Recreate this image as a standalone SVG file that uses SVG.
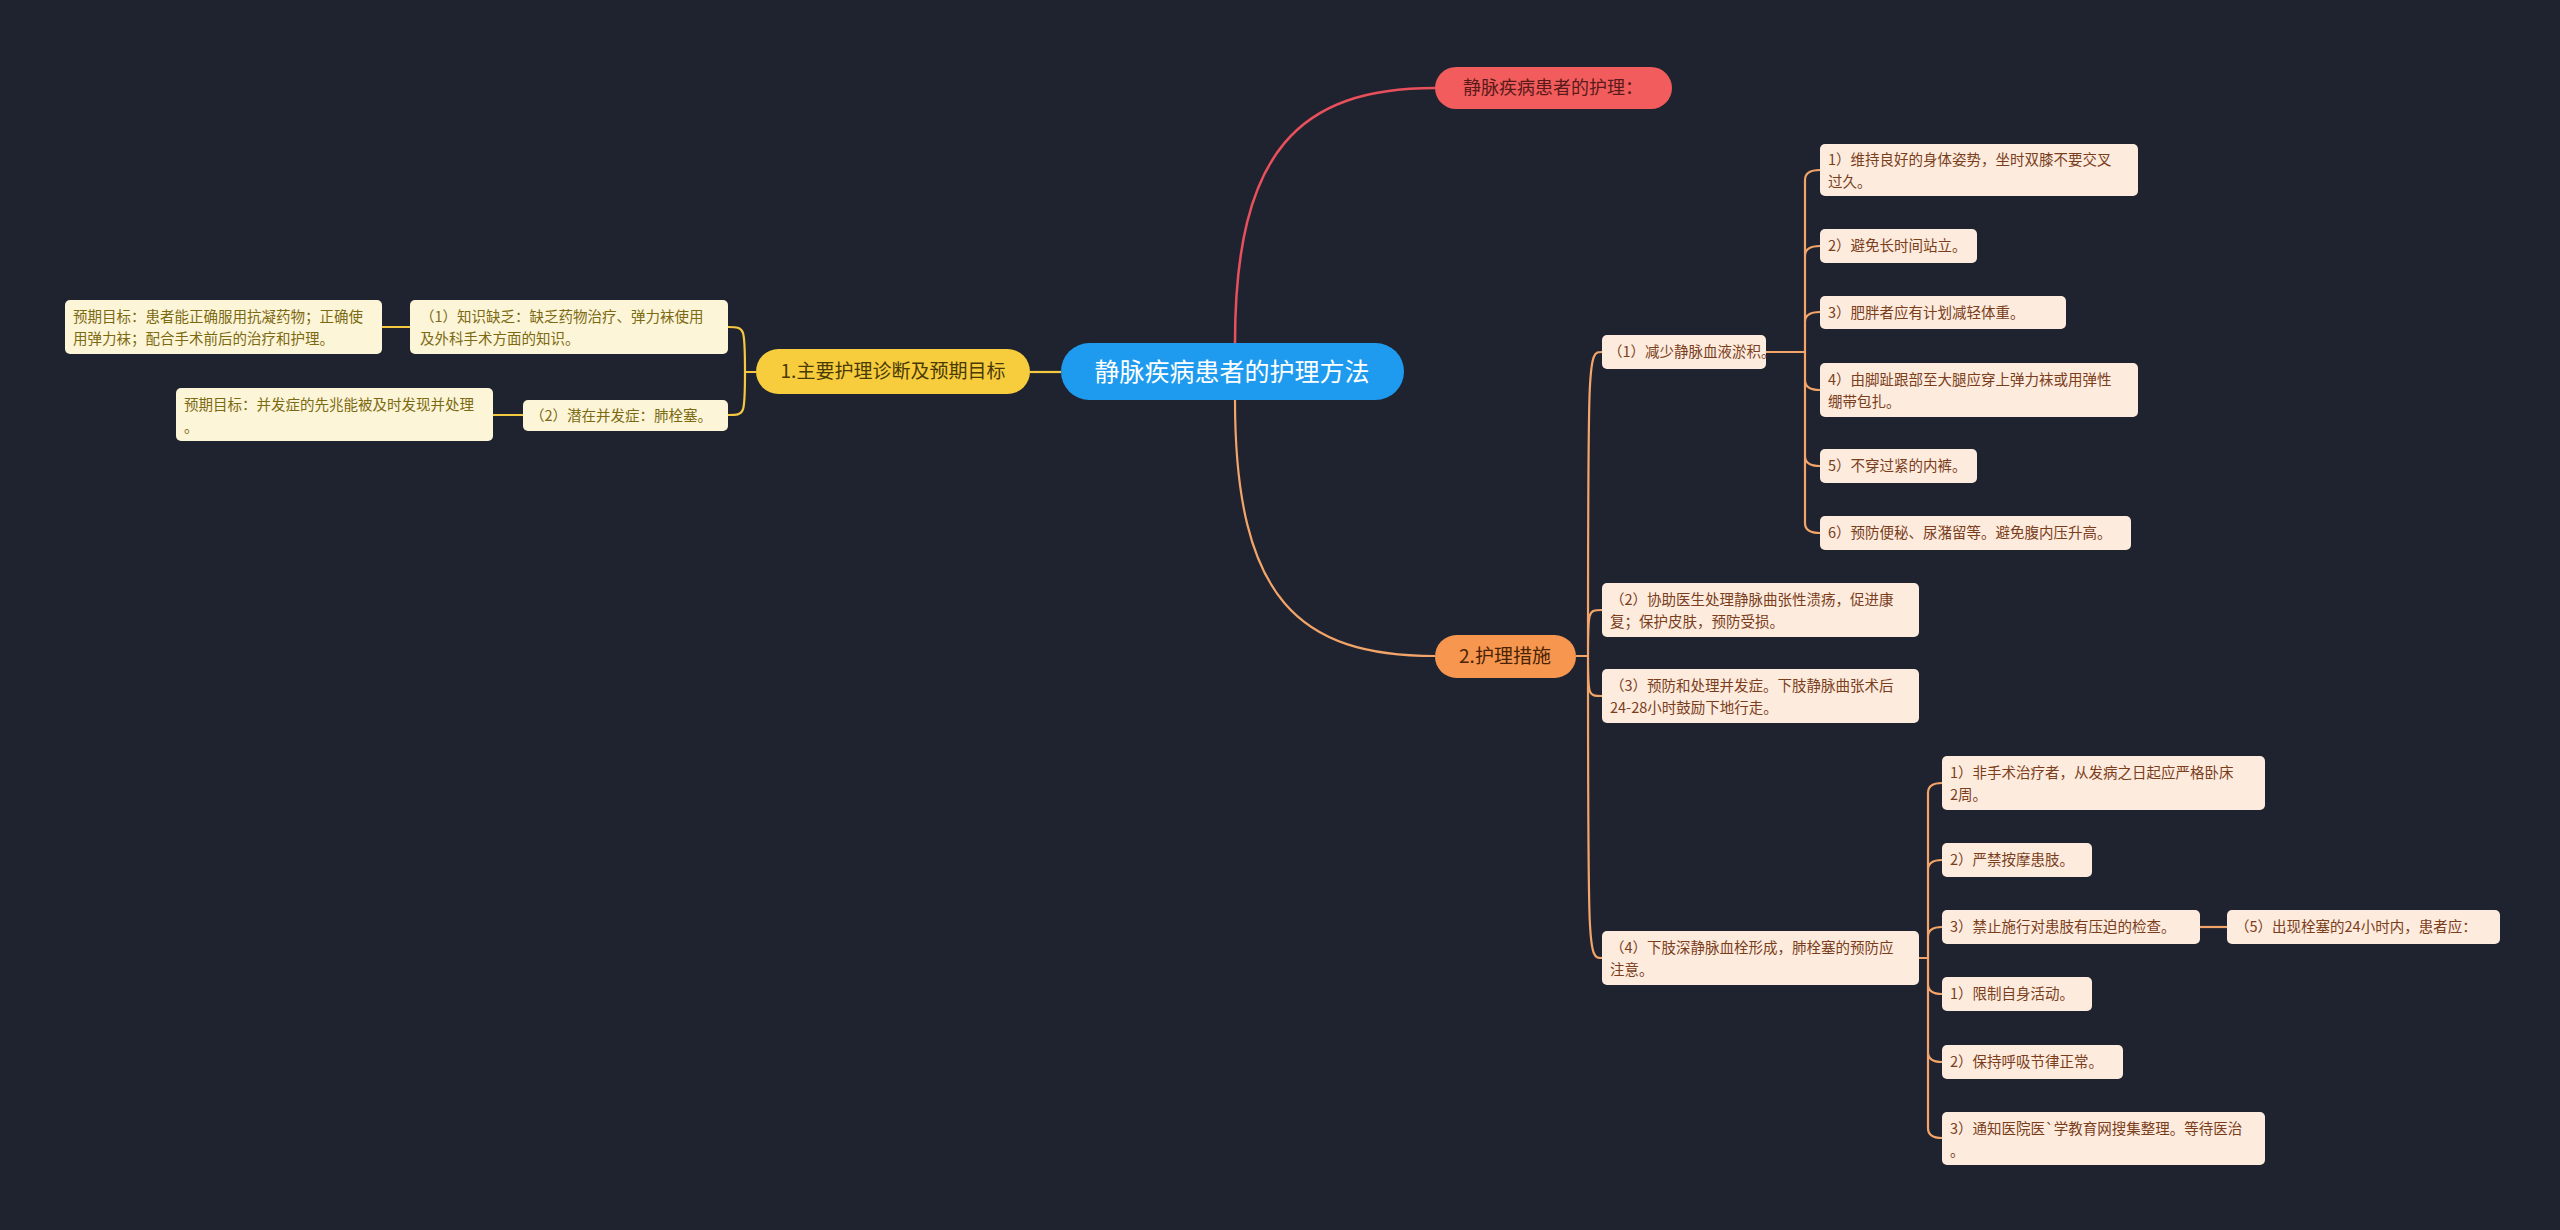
<svg xmlns="http://www.w3.org/2000/svg" width="2560" height="1230" viewBox="0 0 2560 1230">
<style>
text{font-family:"Noto Sans CJK SC","Liberation Sans",sans-serif}
.p{fill:#FDEBDD}
.pt{fill:#7A3E1C;font-size:14.5px}
.y{fill:#FDF5D8}
.yt{fill:#7B6A12;font-size:14.5px}
.oc{fill:none;stroke:#F2A469;stroke-width:2.2}
.yc{fill:none;stroke:#F5C842;stroke-width:2.2}
</style>
<rect width="2560" height="1230" fill="#1F2330"/>
<g id="connectors">
<path class="oc" d="M1235,400 C1235,600 1300,656 1435,656" stroke-width="2.5"/>
<path d="M1235,343 C1235,150 1300,88 1435,88" fill="none" stroke="#E8505B" stroke-width="2.5"/>
<path class="yc" d="M1061,372 H1030" stroke-width="3"/>
<path class="yc" d="M756,372 H745 M745,372 C745,327 745,327 728,327 M745,372 C745,415 745,415 728,415"/>
<path class="yc" d="M410,327 H382 M523,415 H493"/>
<path class="oc" d="M1576,656 H1588 M1588,656 C1588,352 1588,352 1602,352 M1588,656 C1588,610 1588,610 1602,610 M1588,656 C1588,696 1588,696 1602,696 M1588,656 C1588,958 1588,958 1602,958"/>
<path class="oc" d="M1766,352 H1805 M1805,352 V180 Q1805,170 1820,170 M1805,352 V256 Q1805,246 1820,246 M1805,352 V322 Q1805,312 1820,312 M1805,352 V380 Q1805,390 1820,390 M1805,352 V456 Q1805,466 1820,466 M1805,352 V523 Q1805,533 1820,533"/>
<path class="oc" d="M1919,958 H1928 M1928,958 V793 Q1928,783 1942,783 M1928,958 V870 Q1928,860 1942,860 M1928,958 V937 Q1928,927 1942,927 M1928,958 V984 Q1928,994 1942,994 M1928,958 V1052 Q1928,1062 1942,1062 M1928,958 V1128 Q1928,1138 1942,1138"/>
<path class="oc" d="M2200,927 H2227" stroke-width="3"/>
</g>
<g id="center"><rect x="1061" y="343" width="343" height="57" rx="28.5" fill="#1E9BEF"/><text x="1232" y="381" font-size="25" fill="#fff" text-anchor="middle">静脉疾病患者的护理方法</text></g>
<g id="red"><rect x="1435" y="67" width="237" height="42" rx="21" fill="#F25C5C"/><text x="1553" y="94" font-size="18" fill="#5a1a1a" text-anchor="middle">静脉疾病患者的护理：</text></g>
<g id="b1"><rect x="756" y="349" width="274" height="45" rx="22.5" fill="#F7CD3E"/><text x="893" y="378" font-size="19" fill="#4a3a05" text-anchor="middle">1.主要护理诊断及预期目标</text></g>
<g id="b2"><rect x="1435" y="635" width="141" height="43" rx="21.5" fill="#F6964F"/><text x="1505" y="663" font-size="19" fill="#4a2305" text-anchor="middle">2.护理措施</text></g>
<g id="l1"><rect class="y" x="410" y="300" width="318" height="54" rx="5"/><text class="yt" x="420" y="322">（1）知识缺乏：缺乏药物治疗、弹力袜使用</text><text class="yt" x="420" y="344">及外科手术方面的知识。</text></g>
<g id="l1a"><rect class="y" x="65" y="300" width="317" height="54" rx="5"/><text class="yt" x="73" y="322">预期目标：患者能正确服用抗凝药物；正确使</text><text class="yt" x="73" y="344">用弹力袜；配合手术前后的治疗和护理。</text></g>
<g id="l2"><rect class="y" x="523" y="400" width="205" height="31" rx="5"/><text class="yt" x="530" y="421">（2）潜在并发症：肺栓塞。</text></g>
<g id="l2a"><rect class="y" x="176" y="388" width="317" height="53" rx="5"/><text class="yt" x="184" y="410">预期目标：并发症的先兆能被及时发现并处理</text><text class="yt" x="184" y="432">。</text></g>
<g id="r1"><rect class="p" x="1602" y="335" width="164" height="34" rx="5"/><text class="pt" x="1608" y="357">（1）减少静脉血液淤积。</text></g>
<g id="r2"><rect class="p" x="1602" y="583" width="317" height="54" rx="5"/><text class="pt" x="1610" y="605">（2）协助医生处理静脉曲张性溃疡，促进康</text><text class="pt" x="1610" y="627">复；保护皮肤，预防受损。</text></g>
<g id="r3"><rect class="p" x="1602" y="669" width="317" height="54" rx="5"/><text class="pt" x="1610" y="691">（3）预防和处理并发症。下肢静脉曲张术后</text><text class="pt" x="1610" y="713">24-28小时鼓励下地行走。</text></g>
<g id="r4"><rect class="p" x="1602" y="931" width="317" height="54" rx="5"/><text class="pt" x="1610" y="953">（4）下肢深静脉血栓形成，肺栓塞的预防应</text><text class="pt" x="1610" y="975">注意。</text></g>
<g id="a1"><rect class="p" x="1820" y="144" width="318" height="52" rx="5"/><text class="pt" x="1828" y="165">1）维持良好的身体姿势，坐时双膝不要交叉</text><text class="pt" x="1828" y="187">过久。</text></g>
<g id="a2"><rect class="p" x="1820" y="229" width="157" height="34" rx="5"/><text class="pt" x="1828" y="251">2）避免长时间站立。</text></g>
<g id="a3"><rect class="p" x="1820" y="296" width="246" height="33" rx="5"/><text class="pt" x="1828" y="318">3）肥胖者应有计划减轻体重。</text></g>
<g id="a4"><rect class="p" x="1820" y="363" width="318" height="54" rx="5"/><text class="pt" x="1828" y="385">4）由脚趾跟部至大腿应穿上弹力袜或用弹性</text><text class="pt" x="1828" y="407">绷带包扎。</text></g>
<g id="a5"><rect class="p" x="1820" y="449" width="157" height="34" rx="5"/><text class="pt" x="1828" y="471">5）不穿过紧的内裤。</text></g>
<g id="a6"><rect class="p" x="1820" y="516" width="311" height="34" rx="5"/><text class="pt" x="1828" y="538">6）预防便秘、尿潴留等。避免腹内压升高。</text></g>
<g id="c1"><rect class="p" x="1942" y="756" width="323" height="54" rx="5"/><text class="pt" x="1950" y="778">1）非手术治疗者，从发病之日起应严格卧床</text><text class="pt" x="1950" y="800">2周。</text></g>
<g id="c2"><rect class="p" x="1942" y="843" width="150" height="34" rx="5"/><text class="pt" x="1950" y="865">2）严禁按摩患肢。</text></g>
<g id="c3"><rect class="p" x="1942" y="910" width="258" height="34" rx="5"/><text class="pt" x="1950" y="932">3）禁止施行对患肢有压迫的检查。</text></g>
<g id="c5"><rect class="p" x="2227" y="910" width="273" height="34" rx="5"/><text class="pt" x="2235" y="932">（5）出现栓塞的24小时内，患者应：</text></g>
<g id="c4"><rect class="p" x="1942" y="977" width="150" height="34" rx="5"/><text class="pt" x="1950" y="999">1）限制自身活动。</text></g>
<g id="c6"><rect class="p" x="1942" y="1045" width="181" height="34" rx="5"/><text class="pt" x="1950" y="1067">2）保持呼吸节律正常。</text></g>
<g id="c7"><rect class="p" x="1942" y="1112" width="323" height="53" rx="5"/><text class="pt" x="1950" y="1134">3）通知医院医`学教育网搜集整理。等待医治</text><text class="pt" x="1950" y="1156">。</text></g>
</svg>
